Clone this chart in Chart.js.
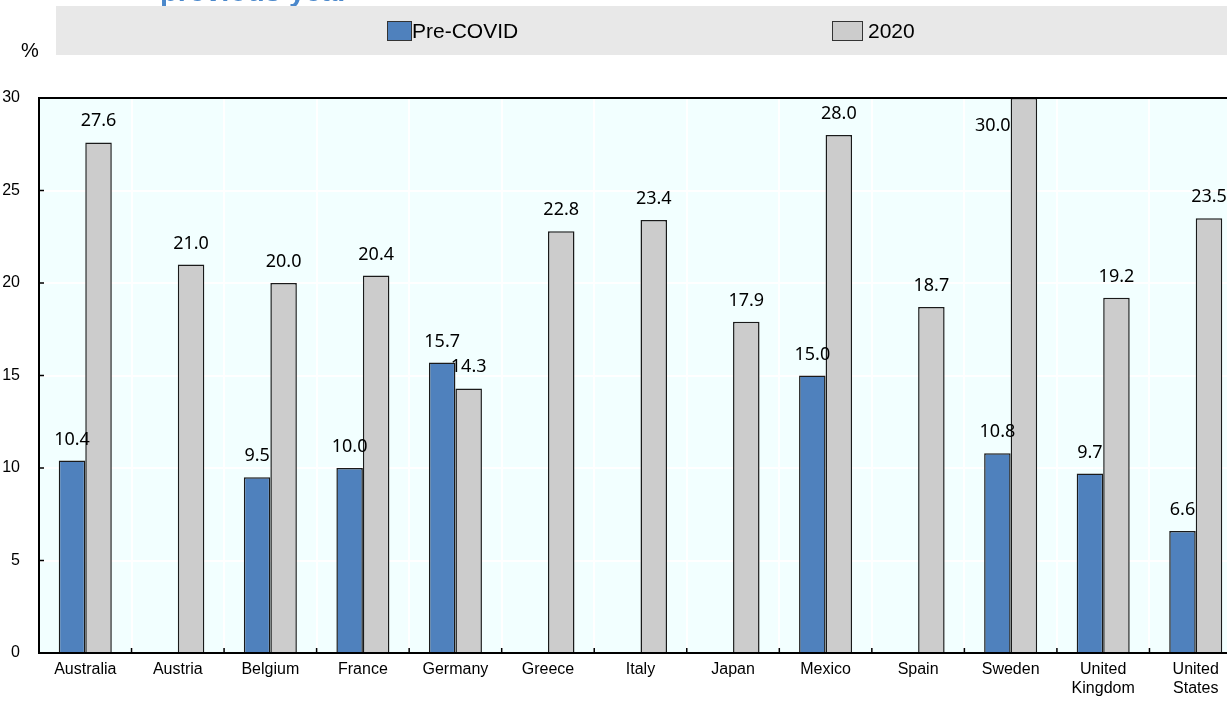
<!DOCTYPE html>
<html>
<head>
<meta charset="utf-8">
<script src="https://cdn.jsdelivr.net/npm/chart.js@4.4.1/dist/chart.umd.min.js"></script>
<style>
  html, body { margin: 0; padding: 0; background: #fff; overflow: hidden; }
  #wrap { width: 1260px; height: 701px; }
</style>
</head>
<body>
<div id="wrap"><canvas id="myChart" width="1260" height="701"></canvas></div>
<script>
const countries = ['Australia', 'Austria', 'Belgium', 'France', 'Germany', 'Greece', 'Italy',
  'Japan', 'Mexico', 'Spain', 'Sweden', ['United', 'Kingdom'], ['United', 'States']];
const preCovid = [10.4, null, 9.5, 10.0, 15.7, null, null, null, 15.0, null, 10.8, 9.7, 6.6];
const y2020 = [27.6, 21.0, 20.0, 20.4, 14.3, 22.8, 23.4, 17.9, 28.0, 18.7, 30.0, 19.2, 23.5];
const seriesNames = ['Pre-COVID', '2020'];
const yTicks = [0, 5, 10, 15, 20, 25, 30];

const BLUE = '#4F81BD';
const GREY = '#CCCCCC';
const PLOT_BG = '#F2FFFF';
const SANS = '"Liberation Sans", Arial, sans-serif';
const LABEL_FONT = '18px "Noto Sans", sans-serif';

// title strip, grey legend band and the "%" unit
const header = {
  id: 'header',
  beforeDraw(chart) {
    const { ctx, chartArea } = chart;
    ctx.save();
    ctx.fillStyle = '#4B88CB';
    ctx.font = 'bold 29px ' + SANS;
    ctx.textBaseline = 'alphabetic';
    ctx.fillText('previous year', 160, 1);

    ctx.fillStyle = '#E8E8E8';
    ctx.fillRect(56, 6, chart.width - 56, 49);

    const items = [
      { x: 387, w: 25, color: BLUE, text: seriesNames[0] },
      { x: 832, w: 31, color: GREY, text: seriesNames[1] },
    ];
    ctx.font = '21px ' + SANS;
    ctx.textBaseline = 'middle';
    items.forEach((it) => {
      ctx.fillStyle = it.color;
      ctx.fillRect(it.x, 21, it.w, 20);
      ctx.strokeStyle = '#333';
      ctx.lineWidth = 1;
      ctx.strokeRect(it.x + 0.5, 21.5, it.w - 1, 19);
      ctx.fillStyle = '#000';
      ctx.fillText(it.text, it.x + it.w + (it.color === GREY ? 5 : 0), 32);
    });

    ctx.font = '20px ' + SANS;
    ctx.fillText('%', 21, 51);

    ctx.fillStyle = PLOT_BG;
    ctx.fillRect(chartArea.left, chartArea.top, chartArea.right - chartArea.left, chartArea.bottom - chartArea.top);
    ctx.restore();
  },
};

// value labels above each bar
const valueLabels = {
  id: 'valueLabels',
  afterDatasetsDraw(chart) {
    const { ctx, chartArea } = chart;
    ctx.save();
    ctx.font = LABEL_FONT;
    ctx.fillStyle = '#000';
    chart.data.datasets.forEach((ds, di) => {
      const meta = chart.getDatasetMeta(di);
      meta.data.forEach((bar, i) => {
        const v = ds.data[i];
        if (v === null || v === undefined) return;
        const txt = v.toFixed(1);
        if (bar.y - 30 < chartArea.top) {
          // no room above: tuck it in beside the bar
          ctx.textAlign = 'right';
          ctx.textBaseline = 'middle';
          ctx.fillText(txt, bar.x - bar.width / 2, bar.y + 28);
        } else {
          ctx.textAlign = 'center';
          ctx.textBaseline = 'alphabetic';
          ctx.fillText(txt, bar.x, bar.y - 16);
        }
      });
    });
    ctx.restore();
  },
};

// frame line on top plus inward tick marks
const frame = {
  id: 'frame',
  afterDraw(chart) {
    const { ctx, chartArea, scales } = chart;
    ctx.save();
    ctx.strokeStyle = '#000';
    ctx.lineWidth = 2;
    ctx.beginPath();
    ctx.moveTo(chartArea.left, chartArea.top);
    ctx.lineTo(chart.width, chartArea.top);
    ctx.stroke();

    ctx.lineWidth = 1.5;
    ctx.beginPath();
    yTicks.forEach((t) => {
      const y = scales.y.getPixelForValue(t);
      ctx.moveTo(chartArea.left, y);
      ctx.lineTo(chartArea.left + 5, y);
    });
    const step = (chartArea.right - chartArea.left) / countries.length;
    for (let k = 1; k < countries.length; k++) {
      const x = chartArea.left + k * step;
      ctx.moveTo(x, chartArea.bottom);
      ctx.lineTo(x, chartArea.bottom - 5);
    }
    ctx.stroke();
    ctx.restore();
  },
};

const ctx = document.getElementById('myChart').getContext('2d');
const myChart = new Chart(ctx, {
  type: 'bar',
  data: {
    labels: countries,
    datasets: [
      {
        label: seriesNames[0],
        data: preCovid,
        backgroundColor: BLUE,
        borderColor: '#1a1a1a',
        borderWidth: 1.5,
        categoryPercentage: 0.573,
        barPercentage: 1.0,
      },
      {
        label: seriesNames[1],
        data: y2020,
        backgroundColor: GREY,
        borderColor: '#1a1a1a',
        borderWidth: 1.5,
        categoryPercentage: 0.573,
        barPercentage: 1.0,
      },
    ],
  },
  options: {
    responsive: false,
    animation: false,
    layout: { padding: { top: 98, right: 18, left: 0, bottom: 0 } },
    plugins: {
      legend: { display: false },
      tooltip: { enabled: false },
    },
    scales: {
      x: {
        grid: { offset: true, color: '#FFFFFF', lineWidth: 2, drawTicks: false },
        border: { display: true, color: '#000', width: 2 },
        ticks: { color: '#000', font: { family: SANS, size: 16 }, padding: 7, maxRotation: 0, autoSkip: false },
        afterFit: (s) => { s.height = 48; },
      },
      y: {
        min: 0,
        max: 30,
        grid: { color: '#FFFFFF', lineWidth: 2, drawTicks: false },
        border: { display: true, color: '#000', width: 2 },
        ticks: { stepSize: 5, color: '#000', font: { family: SANS, size: 16 }, padding: 19 },
        afterFit: (s) => { s.width = 39; },
      },
    },
  },
  plugins: [header, valueLabels, frame],
});
</script>
</body>
</html>
